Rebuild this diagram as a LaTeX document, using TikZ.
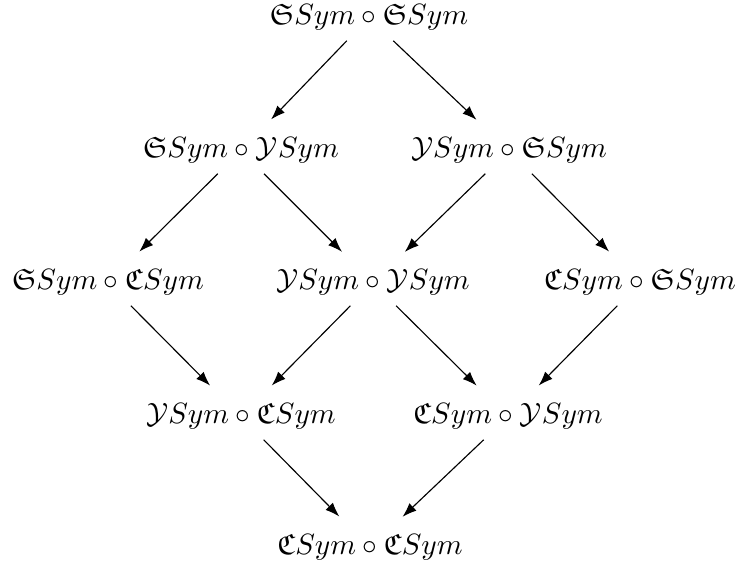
\documentclass[tikz,border=0pt]{standalone}
\usepackage{amssymb}
\usetikzlibrary{arrows.meta}
\newcommand{\cellmath}[1]{\scalebox{1.03}{$#1$}}
\tikzset{
  cell/.style={anchor=base, inner sep=3.33pt},
  arr/.style={-{Latex[length=5pt,width=3.6pt]}, line width=0.4pt, shorten >=4pt}
}
\begin{document}
\begin{tikzpicture}[x=0.351pt, y=-0.351pt]
\useasboundingbox (0,0) rectangle (740,566);
\node[cell] (t) at (369,25) {\cellmath{\mathfrak{S}Sym\circ\mathfrak{S}Sym}};
\node[cell] (a) at (241,158) {\cellmath{\mathfrak{S}Sym\circ\mathcal{Y}Sym}};
\node[cell] (b) at (509,158) {\cellmath{\mathcal{Y}Sym\circ\mathfrak{S}Sym}};
\node[cell] (c) at (108,290) {\cellmath{\mathfrak{S}Sym\circ\mathfrak{C}Sym}};
\node[cell] (d) at (373,290) {\cellmath{\mathcal{Y}Sym\circ\mathcal{Y}Sym}};
\node[cell] (e) at (640,290) {\cellmath{\mathfrak{C}Sym\circ\mathfrak{S}Sym}};
\node[cell] (f) at (241,424) {\cellmath{\mathcal{Y}Sym\circ\mathfrak{C}Sym}};
\node[cell] (g) at (508,424) {\cellmath{\mathfrak{C}Sym\circ\mathcal{Y}Sym}};
\node[cell] (h) at (370,555) {\cellmath{\mathfrak{C}Sym\circ\mathfrak{C}Sym}};
\draw[arr] (t) -- (a);
\draw[arr] (t) -- (b);
\draw[arr] (a) -- (c);
\draw[arr] (a) -- (d);
\draw[arr] (b) -- (d);
\draw[arr] (b) -- (e);
\draw[arr] (c) -- (f);
\draw[arr] (d) -- (f);
\draw[arr] (d) -- (g);
\draw[arr] (e) -- (g);
\draw[arr] (f) -- (h);
\draw[arr] (g) -- (h);
\end{tikzpicture}
\end{document}
